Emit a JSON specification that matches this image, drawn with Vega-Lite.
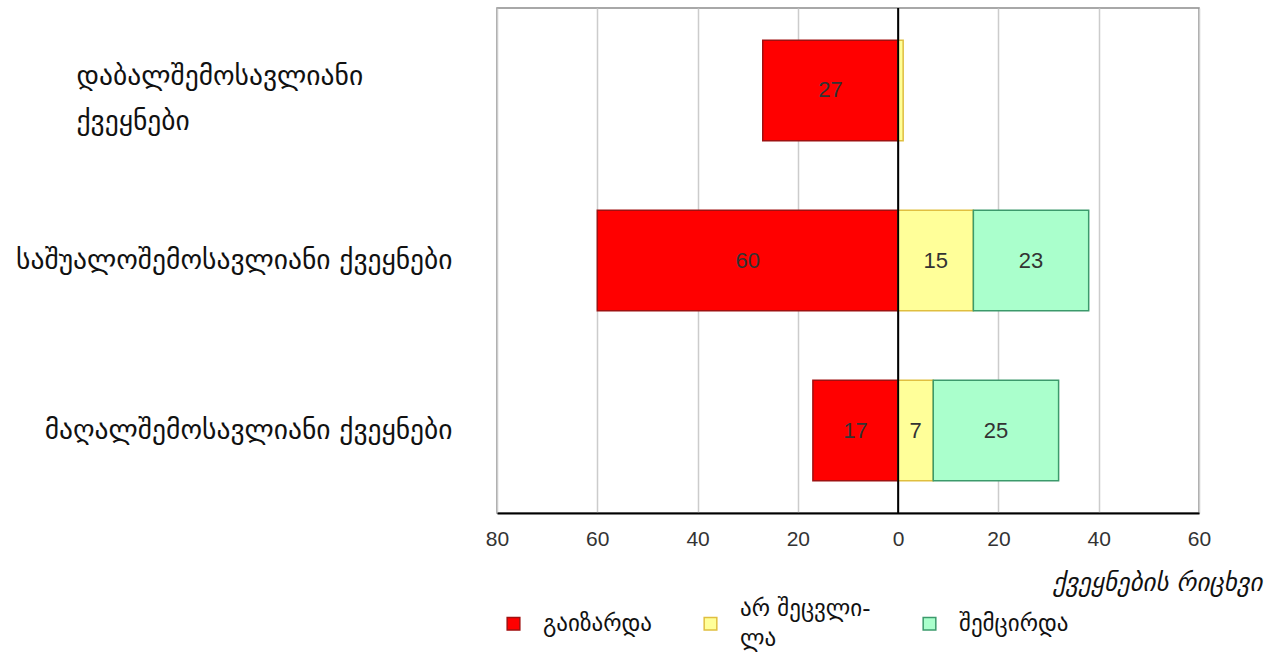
{
  "$schema": "https://vega.github.io/schema/vega-lite/v6.json",
  "width": 702,
  "height": 505,
  "autosize": {"type": "none"},
  "padding": {"left": 497, "top": 8, "right": 80, "bottom": 140},
  "background": "white",
  "config": {
    "view": {"stroke": "#8c8c8c", "strokeWidth": 1.5},
    "font": "DejaVu Sans"
  },
  "data": {
    "values": [
      {"group": "დაბალშემოსავლიანი ქვეყნები", "status": "გაიზარდა", "value": -27, "count": 27, "ord": 0},
      {"group": "დაბალშემოსავლიანი ქვეყნები", "status": "არ შეცვლილა", "value": 1, "count": 1, "ord": 1},
      {"group": "საშუალოშემოსავლიანი ქვეყნები", "status": "გაიზარდა", "value": -60, "count": 60, "ord": 0},
      {"group": "საშუალოშემოსავლიანი ქვეყნები", "status": "არ შეცვლილა", "value": 15, "count": 15, "ord": 1},
      {"group": "საშუალოშემოსავლიანი ქვეყნები", "status": "შემცირდა", "value": 23, "count": 23, "ord": 2},
      {"group": "მაღალშემოსავლიანი ქვეყნები", "status": "გაიზარდა", "value": -17, "count": 17, "ord": 0},
      {"group": "მაღალშემოსავლიანი ქვეყნები", "status": "არ შეცვლილა", "value": 7, "count": 7, "ord": 1},
      {"group": "მაღალშემოსავლიანი ქვეყნები", "status": "შემცირდა", "value": 25, "count": 25, "ord": 2}
    ]
  },
  "transform": [
    {"stack": "value", "groupby": ["group"], "sort": [{"field": "ord"}], "as": ["x0", "x1"]},
    {"calculate": "(datum.x0 + datum.x1) / 2", "as": "mid"}
  ],
  "layer": [
    {
      "mark": {"type": "bar", "strokeWidth": 1.5},
      "encoding": {
        "y": {
          "field": "group", "type": "nominal",
          "sort": ["დაბალშემოსავლიანი ქვეყნები", "საშუალოშემოსავლიანი ქვეყნები", "მაღალშემოსავლიანი ქვეყნები"],
          "scale": {"paddingInner": 0.41, "paddingOuter": 0.19},
          "axis": {
            "title": null, "domain": false, "ticks": false,
            "labelFont": "DejaVu Sans", "labelFontSize": 27.5, "labelColor": "#111",
            "labelLimit": 600, "labelLineHeight": 45,
            "labelExpr": "datum.label == 'დაბალშემოსავლიანი ქვეყნები' ? ['დაბალშემოსავლიანი', 'ქვეყნები'] : datum.label",
            "labelAlign": {"condition": {"test": "datum.value == 'დაბალშემოსავლიანი ქვეყნები'", "value": "left"}, "value": "right"},
            "labelPadding": {"condition": {"test": "datum.value == 'დაბალშემოსავლიანი ქვეყნები'", "value": 421}, "value": 45},
            "labelOffset": {"condition": {"test": "datum.value == 'დაბალშემოსავლიანი ქვეყნები'", "value": -13}, "value": 0}
          }
        },
        "x": {
          "field": "x0", "type": "quantitative",
          "scale": {"domain": [-80, 60], "nice": false, "zero": false},
          "axis": {
            "values": [-80, -60, -40, -20, 0, 20, 40, 60],
            "labelExpr": "abs(datum.value)",
            "labelFlush": false,
            "domainColor": "black", "domainWidth": 2,
            "ticks": false,
            "grid": true, "gridColor": "#cccccc", "gridWidth": 1.5,
            "labelFont": "Liberation Sans", "labelFontSize": 21, "labelColor": "#333",
            "labelPadding": 15,
            "title": "ქვეყნების რიცხვი",
            "titleFont": "DejaVu Sans", "titleFontStyle": "italic", "titleFontWeight": "normal",
            "titleFontSize": 25, "titleColor": "#111",
            "titleAnchor": "end", "titleAlign": "right", "titleBaseline": "middle",
            "titleX": 765, "titleY": 69
          }
        },
        "x2": {"field": "x1"},
        "color": {
          "field": "status", "type": "nominal",
          "scale": {"domain": ["გაიზარდა", "არ შეცვლილა", "შემცირდა"], "range": ["#ff0000", "#ffff99", "#aaffcc"]},
          "legend": {
            "title": null, "orient": "none", "legendX": 5, "legendY": 604,
            "direction": "horizontal", "symbolType": "square", "symbolSize": 160,
            "symbolStrokeWidth": 1.5,
            "labelFont": "DejaVu Sans", "labelFontSize": 23, "labelColor": "#111",
            "labelOffset": 18, "columnPadding": 47, "labelLimit": 300,
            "labelExpr": "datum.label == 'არ შეცვლილა' ? ['არ შეცვლი-', 'ლა'] : [' ', datum.label, ' ']",
            "encode": {
              "labels": {"update": {
                "lineHeight": {"signal": "datum.value == 'არ შეცვლილა' ? 30 : 15"},
                "dy": {"value": -15}
              }}
            }
          }
        },
        "stroke": {
          "field": "status", "type": "nominal",
          "scale": {"domain": ["გაიზარდა", "არ შეცვლილა", "შემცირდა"], "range": ["#a01010", "#e0bf40", "#3c9a6c"]},
          "legend": null
        }
      }
    },
    {
      "data": {"values": [{}]},
      "mark": {"type": "rule", "color": "black", "strokeWidth": 2},
      "encoding": {"x": {"datum": 0}}
    },
    {
      "transform": [{"filter": "datum.count >= 5"}],
      "mark": {"type": "text", "font": "Liberation Sans", "fontSize": 22, "color": "#333"},
      "encoding": {
        "y": {"field": "group", "type": "nominal", "sort": ["დაბალშემოსავლიანი ქვეყნები", "საშუალოშემოსავლიანი ქვეყნები", "მაღალშემოსავლიანი ქვეყნები"]},
        "x": {"field": "mid", "type": "quantitative"},
        "text": {"field": "count", "type": "quantitative"}
      }
    }
  ]
}
